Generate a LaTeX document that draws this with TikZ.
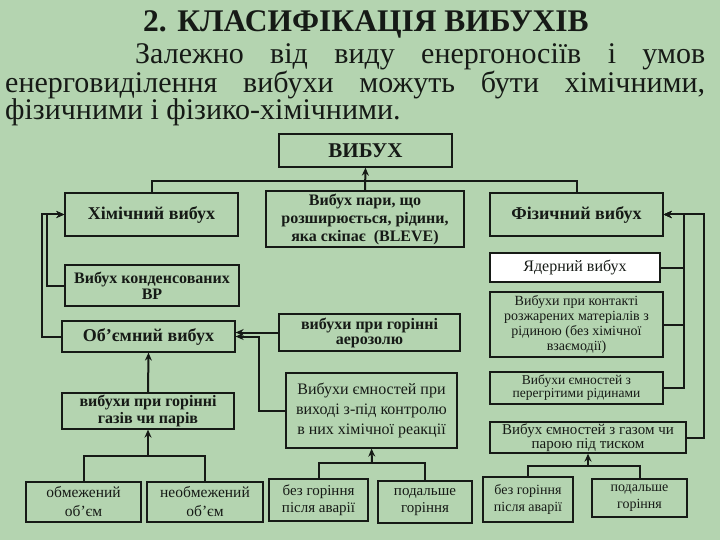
\documentclass[tikz,border=0pt]{standalone}
\usepackage{fontspec}
\setmainfont{Liberation Serif}
\usetikzlibrary{arrows.meta}
\definecolor{bg}{RGB}{180,212,176}
\definecolor{ink}{RGB}{22,26,22}
\tikzset{bx/.style = {draw=ink, line width=1.3pt, inner sep=1pt, align=center, text=ink, font=\bfseries\fontsize{16}{16}\selectfont},
         nb/.style = {draw=ink, line width=1.3pt, inner sep=1pt, align=center, text=ink, font=\fontsize{15}{19}\selectfont},
         sm/.style = {nb, font=\fontsize{13}{16}\selectfont},
         wh/.style 2 args = {minimum width=#1pt, minimum height=#2pt},
         ln/.style = {draw=ink, line width=2pt}}

\begin{document}
\begin{tikzpicture}[x=1pt, y=-1pt, >={Stealth[length=8pt,width=7pt]}]
    \useasboundingbox[fill=bg] (0,0) rectangle (720,540);
    \node[text=ink, font=\bfseries\fontsize{31.5}{30}\selectfont, anchor=base] (title) at (366,32) {2. КЛАСИФІКАЦІЯ ВИБУХІВ};
    \node[text=ink, font=\fontsize{30}{27.5}\selectfont, anchor=north west, text width=700pt, align=justify, inner sep=0pt] (intro) at (5,43)
      {\hspace*{130pt}Залежно від виду енергоносіїв і умов\linebreak енерговиділення вибухи можуть бути хімічними,\linebreak фізичними і фізико-хімічними.};
    % top level
    \node[bx, wh={173}{33}, font=\bfseries\fontsize{21}{21}\selectfont] (vyb) at (365.5,150.5) {ВИБУХ};
    \node[bx, wh={173}{43}, font=\bfseries\fontsize{18}{18}\selectfont] (chem) at (151.5,214.5) {Хімічний вибух};
    \node[bx, wh={198}{56}, font=\bfseries\fontsize{16}{18}\selectfont] (bleve) at (365,219) {Вибух пари, що\\розширюється, рідини,\\яка скіпає\ \ (BLEVE)};
    \node[bx, wh={173}{43}, font=\bfseries\fontsize{18}{18}\selectfont] (phys) at (576.5,214.5) {Фізичний вибух};
    % left column
    \node[bx, wh={174}{41}] (kond) at (152,285.5) {Вибух конденсованих\\ВР};
    \node[bx, wh={173}{31}, font=\bfseries\fontsize{18}{18}\selectfont] (obyem) at (148.5,336.5) {Об’ємний вибух};
    \node[bx, wh={172}{36}, font=\bfseries\fontsize{16}{17}\selectfont] (gazy) at (148,411) {вибухи при горінні\\газів чи парів};
    \node[nb, wh={115}{40}, font=\fontsize{15.5}{19}\selectfont] (obm) at (83.5,502) {обмежений\\об’єм};
    \node[nb, wh={116}{40}, font=\fontsize{15.5}{19}\selectfont] (neobm) at (205,502) {необмежений\\об’єм};
    % middle column
    \node[bx, wh={181}{37}, font=\bfseries\fontsize{16}{15}\selectfont] (aero) at (369.5,332.5) {вибухи при горінні\\аерозолю};
    \node[nb, wh={171}{75}, font=\fontsize{16}{20}\selectfont] (reak) at (371.5,410.5) {Вибухи ємностей при\\виході з-під контролю\\в них хімічної реакції};
    \node[nb, wh={99}{42}, font=\fontsize{15}{17}\selectfont] (mbez) at (318.5,500) {без горіння\\після аварії};
    \node[nb, wh={94}{42}, font=\fontsize{15}{17}\selectfont] (mpod) at (425,502) {подальше\\горіння};
    % right column
    \node[nb, wh={170}{29}, fill=white, font=\fontsize{16}{16}\selectfont] (yader) at (575,267.5) {Ядерний вибух};
    \node[sm, wh={173}{65}, font=\fontsize{14}{15}\selectfont] (kont) at (576.5,324.5) {Вибухи при контакті\\розжарених матеріалів з\\рідиною (без хімічної\\взаємодії)};
    \node[nb, wh={173}{32}, font=\fontsize{13.5}{13}\selectfont] (pereg) at (576.5,388) {Вибухи ємностей з\\перегрітими рідинами};
    \node[nb, wh={196}{31}, font=\fontsize{15}{14}\selectfont] (tysk) at (588,437.5) {Вибух ємностей з газом чи\\парою під тиском};
    \node[sm, wh={90}{45}, font=\fontsize{14}{17}\selectfont] (rbez) at (528,499.5) {без горіння\\після аварії};
    \node[sm, wh={95}{38}, font=\fontsize{14}{17}\selectfont] (rpod) at (639.5,498) {подальше\\горіння};
    % junctions
    \coordinate (jt) at (365,181);
    \coordinate (jl) at (148,456);
    \coordinate (jm) at (372,463);
    \coordinate (jr) at (588,466);
    % connectors
    \draw[ln] (chem.north) |- (jt) -| (phys.north);
    \draw[ln, ->] (bleve.north) -- (vyb.south);
    \draw[ln, ->] (obyem.west) -- ++(-19,0) |- (chem.west);
    \draw[ln, ->] (kond.west) -- ++(-17,0) |- (chem.west);
    \draw[ln, ->] (yader.east) -- ++(23,0) |- (phys.east);
    \draw[ln, ->] (kont.east) -- ++(20,0) |- (phys.east);
    \draw[ln, ->] (pereg.east) -- ++(20,0) |- (phys.east);
    \draw[ln, ->] (tysk.east) -- ++(17,0) |- (phys.east);
    \draw[ln, ->] (aero.west) -- (aero.west -| obyem.east);
    \draw[ln, ->] (reak.west) -- ++(-26,0) |- (obyem.east);
    \draw[ln, ->] (gazy.north) -- (obyem.south);
    \draw[ln] (obm.north) |- (jl) -| (neobm.north);
    \draw[ln, ->] (jl) -- (gazy.south);
    \draw[ln] (mbez.north) |- (jm) -| (mpod.north);
    \draw[ln, ->] (jm) -- (reak.south);
    \draw[ln] (rbez.north) |- (jr) -| (rpod.north);
    \draw[ln, ->] (jr) -- (tysk.south);
\end{tikzpicture}
\end{document}
